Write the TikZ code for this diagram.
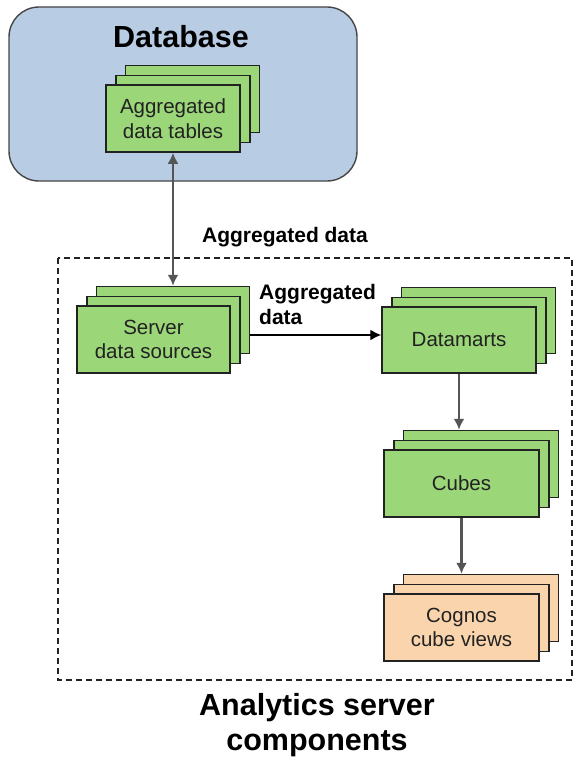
\documentclass[tikz,border=0pt]{standalone}
\usepackage{fontspec}
\setmainfont{Liberation Sans}
\usetikzlibrary{arrows.meta}

\definecolor{dbblue}{RGB}{184,204,228}
\definecolor{dbedge}{RGB}{70,70,70}
\definecolor{boxgreen}{RGB}{155,214,120}
\definecolor{boxpeach}{RGB}{250,212,172}
\definecolor{boxedge}{RGB}{34,34,34}
\definecolor{linkgray}{RGB}{85,85,85}

\tikzset{
  layer/.style={draw=boxedge, line width=1.5pt, inner sep=0pt, align=center,
    text=boxedge, font=\fontsize{20.5}{24.5}\selectfont},
  connector/.style={draw=linkgray, line width=2.4pt},
  tipend/.style={-{Latex[length=11pt,width=11pt]}},
  tipboth/.style={{Latex[length=11pt,width=11pt]}-{Latex[length=11pt,width=11pt]}},
  boldlabel/.style={inner sep=0pt, font=\bfseries\fontsize{21}{25}\selectfont},
  title/.style={inner sep=0pt, align=center, font=\bfseries\fontsize{30.5}{34.5}\selectfont},
}

% three stacked sheets: #1 name, (#2,#3) centre of front sheet,
% #4 width, #5 height, #6 fill colour, #7 text
\newcommand{\stackbox}[7]{%
  \node[layer, fill=#6, minimum width=#4, minimum height=#5] (#1back) at (#2+19.5,#3-19.5) {};
  \node[layer, fill=#6, minimum width=#4, minimum height=#5] (#1mid) at (#2+9.75,#3-9.75) {};
  \node[layer, fill=#6, minimum width=#4, minimum height=#5] (#1) at (#2,#3) {#7};
}

\begin{document}
\begin{tikzpicture}[x=1pt, y=-1pt]
  \useasboundingbox[fill=white] (0,0) rectangle (576,768);

  % database container
  \node[draw=dbedge, fill=dbblue, line width=1.4pt, rounded corners=30pt,
        minimum width=348pt, minimum height=174pt, inner sep=0pt] (db) at (183,94) {};
  \node[title] (dbtitle) at (181,37) {Database};
  \stackbox{agg}{173}{118.5}{134pt}{67pt}{boxgreen}{Aggregated\\data tables}

  % analytics server container
  \draw[line width=1.3pt, dash pattern=on 6pt off 4pt, draw=boxedge]
        (58,258) rectangle (572,680);
  \node[title] (astitle) at (317,725) {Analytics server\\components};

  \stackbox{sds}{153.5}{339.5}{153pt}{67pt}{boxgreen}{Server\\data sources}
  \stackbox{dm}{459}{340}{154pt}{66pt}{boxgreen}{Datamarts}
  \stackbox{cubes}{461.5}{483.5}{155pt}{67pt}{boxgreen}{Cubes}
  \stackbox{cog}{461.5}{627.5}{155pt}{67pt}{boxpeach}{Cognos\\cube views}

  % connectors
  \draw[connector, tipboth] (agg.south) -- (agg.south |- sdsback.north);
  \node[boldlabel] (lblagg) at (285,237) {Aggregated data};

  \draw[draw=black, line width=1.8pt, tipend]
        ([yshift=5pt]sdsback.east |- dm.west) -- ([yshift=5pt]dm.west);
  \node[boldlabel, align=left, anchor=west] (lblsds) at (259,304.5) {Aggregated\\data};

  \draw[connector, tipend] (dm.south) -- (dm.south |- cubesback.north);
  \draw[connector, tipend] (cubes.south) -- (cubes.south |- cogback.north);
\end{tikzpicture}
\end{document}
